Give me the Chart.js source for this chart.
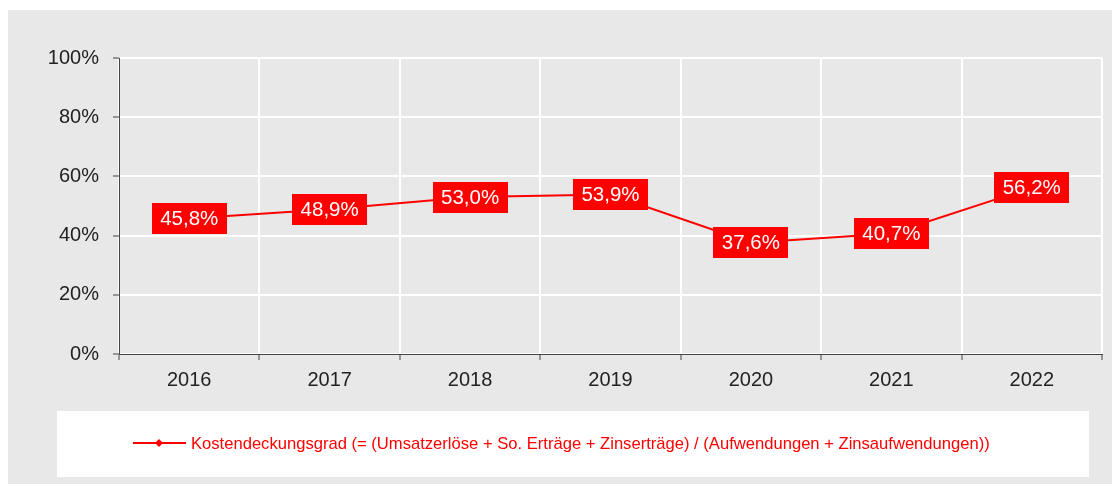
<!DOCTYPE html>
<html>
<head>
<meta charset="utf-8">
<script src="https://cdn.jsdelivr.net/npm/chart.js@4"></script>
<style>
  html, body { margin: 0; padding: 0; background: #fff; }
  #wrap { width: 1112px; height: 484px; }
</style>
</head>
<body>
<div id="wrap"><canvas id="chart" width="1112" height="484"></canvas></div>
<script>
const years = ['2016', '2017', '2018', '2019', '2020', '2021', '2022'];
const kostendeckung = [45.8, 48.9, 53.0, 53.9, 37.6, 40.7, 56.2];
const yTicks = [0, 20, 40, 60, 80, 100];
const seriesLabel = 'Kostendeckungsgrad (= (Umsatzerlöse + So. Erträge + Zinserträge) / (Aufwendungen + Zinsaufwendungen))';

const RED = '#ff0000';
const GREY = '#e8e8e8';
const FONT = '"Liberation Sans", Arial, sans-serif';
const fmt = v => v.toFixed(1).replace('.', ',') + '%';

// grey panel + white legend box behind everything
const backdrop = {
    id: 'backdrop',
    beforeDraw(chart) {
        const ctx = chart.ctx;
        ctx.save();
        ctx.fillStyle = '#fff';
        ctx.fillRect(0, 0, chart.width, chart.height);
        ctx.fillStyle = GREY;
        ctx.fillRect(8, 10, chart.width - 8, chart.height - 10);
        ctx.fillStyle = '#fff';
        ctx.fillRect(57, 411, 1032, 66);
        ctx.restore();
    },
    afterDraw(chart) {
        // legend: line with diamond marker + label
        const ctx = chart.ctx;
        const y = 443;
        ctx.save();
        ctx.strokeStyle = RED;
        ctx.lineWidth = 2;
        ctx.beginPath();
        ctx.moveTo(133, y);
        ctx.lineTo(186, y);
        ctx.stroke();
        ctx.fillStyle = RED;
        ctx.beginPath();
        ctx.moveTo(159, y - 4);
        ctx.lineTo(163, y);
        ctx.lineTo(159, y + 4);
        ctx.lineTo(155, y);
        ctx.closePath();
        ctx.fill();
        ctx.font = '16.6px ' + FONT;
        ctx.textBaseline = 'middle';
        ctx.fillText(chart.data.datasets[0].label, 191, y + 1);
        ctx.restore();
    }
};

// red boxes with white values centred on the points
const valueBoxes = {
    id: 'valueBoxes',
    afterDatasetsDraw(chart) {
        const ctx = chart.ctx;
        const meta = chart.getDatasetMeta(0);
        ctx.save();
        ctx.font = '20.5px ' + FONT;
        ctx.textAlign = 'center';
        ctx.textBaseline = 'middle';
        meta.data.forEach((pt, i) => {
            const txt = fmt(chart.data.datasets[0].data[i]);
            const w = ctx.measureText(txt).width + 17;
            const h = 31;
            ctx.fillStyle = RED;
            ctx.fillRect(Math.round(pt.x - w / 2), Math.round(pt.y - h / 2), Math.round(w), h);
            ctx.fillStyle = '#fff';
            ctx.fillText(txt, pt.x, pt.y + 1);
        });
        ctx.restore();
    }
};

new Chart(document.getElementById('chart'), {
    type: 'line',
    data: {
        labels: years,
        datasets: [{
            label: seriesLabel,
            data: kostendeckung,
            borderColor: RED,
            backgroundColor: RED,
            borderWidth: 2,
            pointRadius: 0,
            tension: 0,
        }]
    },
    options: {
        responsive: false,
        animation: false,
        layout: { padding: { left: 0, right: 10, top: 58, bottom: 0 } },
        plugins: {
            legend: { display: false },
            tooltip: { enabled: false },
        },
        scales: {
            x: {
                offset: true,
                afterFit: s => { s.height = 130; },
                grid: {
                    offset: true,
                    color: '#fff',
                    lineWidth: 2,
                    tickColor: '#444',
                    tickLength: 6,
                    tickWidth: 1,
                },
                border: { color: '#444', width: 1 },
                ticks: {
                    color: '#222',
                    padding: 8,
                    font: { family: FONT, size: 20 },
                },
            },
            y: {
                min: 0,
                max: 100,
                afterFit: s => { s.width = 119; },
                afterBuildTicks: s => { s.ticks = yTicks.map(v => ({ value: v })); },
                grid: {
                    color: '#fff',
                    lineWidth: 2,
                    tickColor: '#444',
                    tickLength: 6,
                    tickWidth: 1,
                },
                border: { color: '#444', width: 1 },
                ticks: {
                    color: '#222',
                    padding: 14,
                    callback: v => v + '%',
                    font: { family: FONT, size: 20 },
                },
            }
        }
    },
    plugins: [backdrop, valueBoxes]
});
</script>
</body>
</html>
